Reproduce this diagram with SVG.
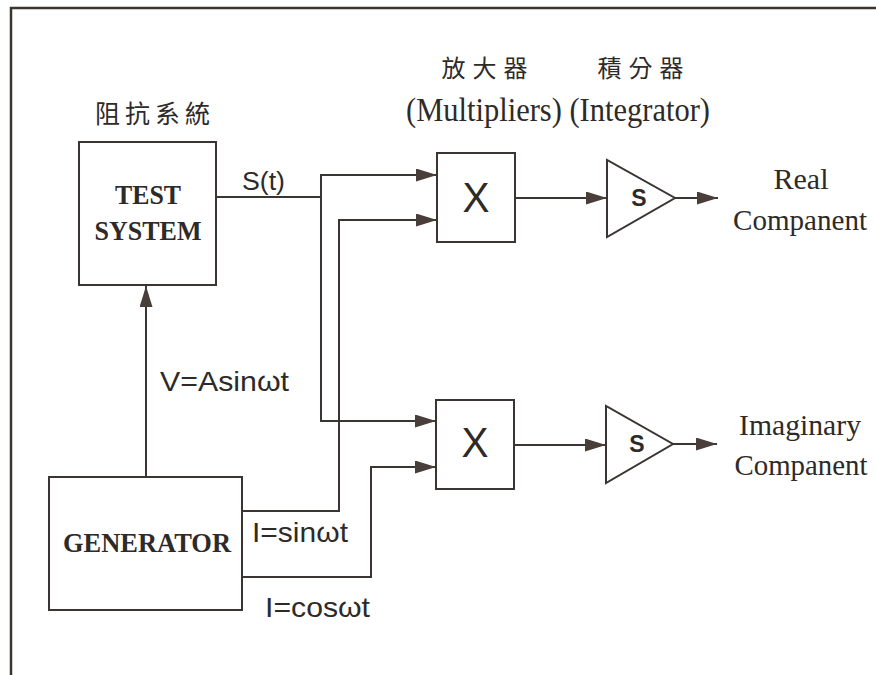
<svg xmlns="http://www.w3.org/2000/svg" width="876" height="675" viewBox="0 0 876 675">
<style>
.ln{fill:none;stroke:#3a3432;stroke-width:2}
.box{fill:#fff;stroke:#3a3432;stroke-width:2}
.serif{font-family:"Liberation Serif","Times New Roman",serif;fill:#2e2a28}
.bold{font-weight:bold}
.sans{font-family:"Liberation Sans",Arial,sans-serif;fill:#2e2a28}
.cjk{font-family:"Noto Sans CJK TC","Noto Sans CJK SC",sans-serif;fill:#2e2a28}
</style>
<defs>
<marker id="arr" markerUnits="userSpaceOnUse" markerWidth="22" markerHeight="14" refX="21" refY="6.5" orient="auto">
<path d="M0,0 L21,6.5 L0,13 z" fill="#4a3e3b"/>
</marker>
</defs>
<rect width="876" height="675" fill="#fff"/>
<path d="M11,675 V8 H876" fill="none" stroke="#3a3432" stroke-width="2.5"/>

<g id="labels">
<text class="cjk" x="155" y="123" font-size="25" letter-spacing="5" text-anchor="middle">阻抗系統</text>
<text class="cjk" x="488" y="77" font-size="24" letter-spacing="7" text-anchor="middle">放大器</text>
<text class="cjk" x="644" y="77" font-size="24" letter-spacing="7" text-anchor="middle">積分器</text>
<text class="serif" x="406" y="121" font-size="34" textLength="304" lengthAdjust="spacingAndGlyphs">(Multipliers) (Integrator)</text>
</g>

<g id="connectors">
<path class="ln" d="M216,197 H321 V175 H437" marker-end="url(#arr)"/>
<path class="ln" d="M321,197 V421 H436" marker-end="url(#arr)"/>
<path class="ln" d="M242,511 H339 V220 H437" marker-end="url(#arr)"/>
<path class="ln" d="M242,577 H371 V467 H436" marker-end="url(#arr)"/>
<path class="ln" d="M146,477 V286" marker-end="url(#arr)"/>
<path class="ln" d="M515,198 H607" marker-end="url(#arr)"/>
<path class="ln" d="M675,198 H718" marker-end="url(#arr)"/>
<path class="ln" d="M514,445 H606" marker-end="url(#arr)"/>
<path class="ln" d="M673,444 H717" marker-end="url(#arr)"/>
<text class="sans" x="242" y="190" font-size="26" textLength="43" lengthAdjust="spacingAndGlyphs">S(t)</text>
<text class="sans" x="160" y="391" font-size="28" textLength="129" lengthAdjust="spacingAndGlyphs">V=Asinωt</text>
<text class="sans" x="252" y="542" font-size="28" textLength="96" lengthAdjust="spacingAndGlyphs">I=sinωt</text>
<text class="sans" x="265" y="617" font-size="28" textLength="105" lengthAdjust="spacingAndGlyphs">I=cosωt</text>
</g>

<g id="test-system">
<rect class="box" x="79" y="142" width="137" height="143"/>
<text class="serif bold" x="148" y="204" font-size="28" text-anchor="middle" textLength="66" lengthAdjust="spacingAndGlyphs">TEST</text>
<text class="serif bold" x="148" y="240" font-size="28" text-anchor="middle" textLength="107" lengthAdjust="spacingAndGlyphs">SYSTEM</text>
</g>

<g id="generator">
<rect class="box" x="49" y="477" width="193" height="133"/>
<text class="serif bold" x="147" y="552" font-size="28" text-anchor="middle" textLength="168" lengthAdjust="spacingAndGlyphs">GENERATOR</text>
</g>

<g id="multiplier-1">
<rect class="box" x="437" y="153" width="78" height="89"/>
<text class="sans" x="476" y="212" font-size="42" text-anchor="middle" textLength="27" lengthAdjust="spacingAndGlyphs">X</text>
</g>

<g id="multiplier-2">
<rect class="box" x="436" y="400" width="78" height="89"/>
<text class="sans" x="475" y="457" font-size="42" text-anchor="middle" textLength="27" lengthAdjust="spacingAndGlyphs">X</text>
</g>

<g id="integrator-1">
<polygon class="box" points="607,160 607,237 675,198"/>
<text class="sans bold" x="639" y="206" font-size="23" text-anchor="middle">S</text>
</g>

<g id="integrator-2">
<polygon class="box" points="606,406 606,483 673,444"/>
<text class="sans bold" x="637" y="452" font-size="23" text-anchor="middle">S</text>
</g>

<g id="real-out">
<text class="serif" x="801" y="189" font-size="30" text-anchor="middle" textLength="55" lengthAdjust="spacingAndGlyphs">Real</text>
<text class="serif" x="800" y="230" font-size="30" text-anchor="middle" textLength="134" lengthAdjust="spacingAndGlyphs">Companent</text>
</g>

<g id="imag-out">
<text class="serif" x="800" y="435" font-size="30" text-anchor="middle" textLength="122" lengthAdjust="spacingAndGlyphs">Imaginary</text>
<text class="serif" x="801" y="475" font-size="30" text-anchor="middle" textLength="133" lengthAdjust="spacingAndGlyphs">Companent</text>
</g>
</svg>
